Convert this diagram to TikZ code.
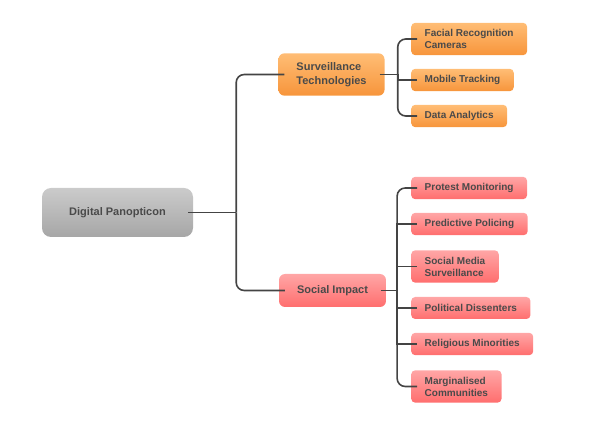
\documentclass[tikz,border=0pt]{standalone}
\usepackage{fontspec}
\setmainfont{Liberation Sans}
\definecolor{inkgray}{HTML}{4A4A4A}
\definecolor{linegray}{HTML}{444444}
\definecolor{rootTop}{HTML}{CBCBCB}
\definecolor{rootBot}{HTML}{A6A6A6}
\definecolor{survTop}{HTML}{FFBD75}
\definecolor{survBot}{HTML}{F7953B}
\definecolor{socTop}{HTML}{FFA6A6}
\definecolor{socBot}{HTML}{FF6E6E}
\tikzset{
  box/.style={text=inkgray, align=left},
  rootbox/.style={box, rounded corners=9pt, top color=rootTop, bottom color=rootBot,
    minimum width=151pt, minimum height=49pt, font=\fontsize{11}{13}\selectfont\bfseries},
  branchbox/.style={box, rounded corners=6pt, inner xsep=18pt, inner ysep=9pt,
    minimum height=33pt, font=\fontsize{11}{14}\selectfont\bfseries},
  leafbox/.style={box, anchor=west, rounded corners=4pt, inner xsep=13.5pt, inner ysep=6.5pt,
    minimum height=22pt, font=\fontsize{10}{12}\selectfont\bfseries},
  survfill/.style={top color=survTop, bottom color=survBot},
  socfill/.style={top color=socTop, bottom color=socBot},
  conn/.style={draw=linegray, line width=1.6pt},
}
\begin{document}
\begin{tikzpicture}[x=1pt, y=-1pt]
    \useasboundingbox (0,0) rectangle (598,427);
    % root and the two branches
    \node[rootbox] (root) at (117.5,212.5) {Digital Panopticon};
    \node[branchbox, survfill] (surv) at (331.5,74.5) {Surveillance\\Technologies};
    \node[branchbox, socfill] (soc) at (332.5,290.5) {Social Impact};
    % leaves
    \node[leafbox, survfill] (facial) at (411,39) {Facial Recognition\\Cameras};
    \node[leafbox, survfill] (mobile) at (411,80) {Mobile Tracking};
    \node[leafbox, survfill] (data) at (411,116) {Data Analytics};
    \node[leafbox, socfill] (protest) at (411,188) {Protest Monitoring};
    \node[leafbox, socfill] (predict) at (411,224) {Predictive Policing};
    \node[leafbox, socfill] (media) at (411,266.5) {Social Media\\Surveillance};
    \node[leafbox, socfill] (dissent) at (411,308) {Political Dissenters};
    \node[leafbox, socfill] (relig) at (411,344) {Religious Minorities};
    \node[leafbox, socfill] (margin) at (411,386.5) {Marginalised\\Communities};
    % forks
    \path (root.east) ++(43,0) coordinate (rootfork);
    \path (surv.east) ++(13,0) coordinate (survfork);
    \path (soc.east) ++(11,0) coordinate (socfork);
    % connectors
    \draw[conn] ([xshift=-5pt]root.east) -- (rootfork);
    \draw[conn, rounded corners=8pt] (rootfork) |- ([xshift=6pt]surv.west);
    \draw[conn, rounded corners=8pt] (rootfork) |- ([xshift=6pt]soc.west);
    \draw[conn] ([xshift=-5pt]surv.east) -- (survfork);
    \draw[conn] ([xshift=-5pt]soc.east) -- (socfork);
    \draw[conn, rounded corners=8pt] (survfork) |- ([xshift=6pt]facial.west);
    \draw[conn, rounded corners=8pt] (survfork) |- ([xshift=6pt]data.west);
    \draw[conn] (survfork) |- ([xshift=6pt]mobile.west);
    \draw[conn, rounded corners=8pt] (socfork) |- ([xshift=6pt]protest.west);
    \draw[conn, rounded corners=8pt] (socfork) |- ([xshift=6pt]margin.west);
    \foreach \leaf in {predict,media,dissent,relig}
        \draw[conn] (socfork) |- ([xshift=6pt]\leaf.west);
\end{tikzpicture}
\end{document}
